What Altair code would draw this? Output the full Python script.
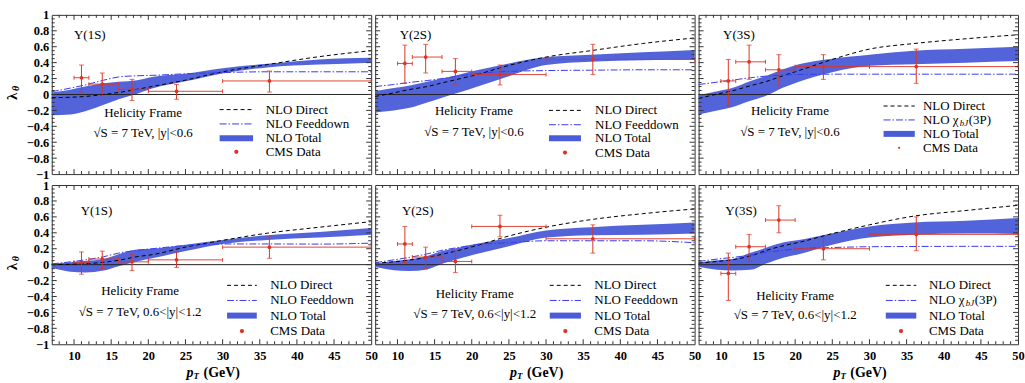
import altair as alt
import pandas as pd

# ---------------- data ----------------
PT = [7, 9.5, 11.5, 14, 16, 18.5, 20.5, 25, 30, 36, 43, 50]

# Upsilon(1S), |y|<0.6
DIRECT_1S_C = [-0.04, -0.035, -0.025, 0.0, 0.025, 0.065, 0.10, 0.18, 0.285, 0.375, 0.475, 0.55]
FEED_1S_C = [0.035, 0.08, 0.12, 0.18, 0.22, 0.235, 0.24, 0.26, 0.275, 0.285, 0.285, 0.285]
TOT_HI_1S_C = [0.025, 0.06, 0.10, 0.14, 0.16, 0.18, 0.22, 0.26, 0.33, 0.385, 0.44, 0.46]
TOT_LO_1S_C = [-0.26, -0.25, -0.21, -0.13, -0.06, 0.01, 0.075, 0.165, 0.265, 0.34, 0.375, 0.40]
# Upsilon(2S), |y|<0.6
DIRECT_2S_C = [-0.025, 0.02, 0.06, 0.10, 0.145, 0.20, 0.245, 0.365, 0.47, 0.55, 0.64, 0.71]
FEED_2S_C = [0.10, 0.125, 0.15, 0.175, 0.20, 0.235, 0.26, 0.29, 0.30, 0.305, 0.31, 0.31]
TOT_HI_2S_C = [0.04, 0.08, 0.11, 0.16, 0.20, 0.255, 0.30, 0.39, 0.47, 0.50, 0.53, 0.56]
TOT_LO_2S_C = [-0.225, -0.20, -0.17, -0.10, -0.04, 0.03, 0.09, 0.23, 0.37, 0.41, 0.43, 0.44]
# Upsilon(3S), |y|<0.6
DIRECT_3S_C = [-0.05, 0.005, 0.045, 0.11, 0.16, 0.24, 0.30, 0.44, 0.57, 0.64, 0.70, 0.75]
FEED_3S_C = [0.125, 0.155, 0.18, 0.21, 0.23, 0.245, 0.25, 0.255, 0.255, 0.255, 0.255, 0.255]
TOT_HI_3S_C = [-0.01, 0.04, 0.08, 0.17, 0.23, 0.32, 0.38, 0.45, 0.50, 0.55, 0.575, 0.60]
TOT_LO_3S_C = [-0.25, -0.20, -0.16, -0.08, -0.02, 0.09, 0.16, 0.28, 0.36, 0.38, 0.40, 0.42]
# Upsilon(1S), 0.6<|y|<1.2
DIRECT_1S_F = [0.0, 0.005, 0.012, 0.03, 0.055, 0.10, 0.125, 0.22, 0.305, 0.395, 0.47, 0.54]
FEED_1S_F = [0.01, 0.035, 0.06, 0.10, 0.145, 0.18, 0.20, 0.24, 0.26, 0.26, 0.258, 0.27]
TOT_HI_1S_F = [0.01, 0.03, 0.045, 0.07, 0.13, 0.19, 0.20, 0.25, 0.31, 0.37, 0.41, 0.46]
TOT_LO_1S_F = [-0.04, -0.09, -0.10, -0.075, -0.02, 0.04, 0.08, 0.17, 0.26, 0.31, 0.34, 0.375]
# Upsilon(2S), 0.6<|y|<1.2
DIRECT_2S_F = [0.02, 0.035, 0.057, 0.09, 0.13, 0.185, 0.235, 0.36, 0.47, 0.565, 0.64, 0.70]
FEED_2S_F = [0.025, 0.06, 0.09, 0.135, 0.18, 0.22, 0.25, 0.275, 0.30, 0.30, 0.30, 0.275]
TOT_HI_2S_F = [0.01, 0.045, 0.065, 0.11, 0.17, 0.22, 0.26, 0.335, 0.43, 0.47, 0.50, 0.53]
TOT_LO_2S_F = [-0.03, -0.07, -0.08, -0.06, 0.01, 0.08, 0.13, 0.23, 0.34, 0.37, 0.375, 0.39]
# Upsilon(3S), 0.6<|y|<1.2
DIRECT_3S_F = [0.02, 0.04, 0.06, 0.11, 0.175, 0.24, 0.28, 0.39, 0.50, 0.61, 0.68, 0.745]
FEED_3S_F = [0.04, 0.07, 0.09, 0.12, 0.155, 0.18, 0.20, 0.215, 0.225, 0.228, 0.23, 0.23]
TOT_HI_3S_F = [0.025, 0.055, 0.07, 0.15, 0.21, 0.28, 0.31, 0.395, 0.48, 0.53, 0.55, 0.585]
TOT_LO_3S_F = [-0.025, -0.065, -0.075, -0.065, 0.01, 0.09, 0.13, 0.25, 0.34, 0.375, 0.39, 0.385]

# CMS data: pT bins and lambda_theta with error bars
BIN_LO = [10, 12, 16, 20, 30]
BIN_HI = [12, 16, 20, 30, 50]
BIN_PT = [11.0, 13.8, 17.8, 23.8, 36.3]

CMS_1S_C = [0.21, 0.13, 0.065, 0.04, 0.17]
CMS_1S_C_LO = [0.03, -0.015, -0.075, -0.06, 0.03]
CMS_1S_C_HI = [0.37, 0.27, 0.19, 0.125, 0.295]
CMS_2S_C = [0.39, 0.47, 0.29, 0.25, 0.44]
CMS_2S_C_LO = [0.14, 0.27, 0.13, 0.12, 0.25]
CMS_2S_C_HI = [0.62, 0.63, 0.45, 0.37, 0.63]
CMS_3S_C = [0.17, 0.41, 0.31, 0.35, 0.35]
CMS_3S_C_LO = [-0.14, 0.19, 0.11, 0.19, 0.14]
CMS_3S_C_HI = [0.44, 0.62, 0.50, 0.50, 0.57]
CMS_1S_F = [0.03, 0.07, 0.035, 0.06, 0.22]
CMS_1S_F_LO = [-0.12, -0.05, -0.075, -0.035, 0.08]
CMS_1S_F_HI = [0.16, 0.17, 0.125, 0.16, 0.35]
CMS_2S_F = [0.26, 0.095, 0.04, 0.48, 0.325]
CMS_2S_F_LO = [0.025, -0.05, -0.10, 0.35, 0.145]
CMS_2S_F_HI = [0.48, 0.22, 0.17, 0.62, 0.50]
CMS_3S_F = [-0.11, 0.225, 0.56, 0.20, 0.38]
CMS_3S_F_LO = [-0.45, 0.04, 0.40, 0.06, 0.175]
CMS_3S_F_HI = [0.145, 0.38, 0.74, 0.34, 0.60]

X_LABELS = [10, 15, 20, 25, 30, 35, 40, 45, 50]
Y_LABELS = [-1, -0.8, -0.6, -0.4, -0.2, 0, 0.2, 0.4, 0.6, 0.8, 1]

# ---------------- style ----------------
W, H = 321, 160
SERIF = "Liberation Serif"
RED = "#dd3322"
BAND = "#4a5cd8"
FEEDC = "#3a3af0"
FRAME = "#333333"

XS = alt.Scale(domain=[7, 50], nice=False, zero=False)
YS = alt.Scale(domain=[-1, 1], nice=False, zero=False)

X_MAJOR = [v for v in range(10, 50, 5)]
X_MINOR = [v for v in range(8, 50) if v % 5 != 0]
Y_MAJOR = [round(-0.8 + 0.2 * i, 2) for i in range(9)]
Y_MINOR = [round(-0.95 + 0.05 * i, 2) for i in range(39) if round((-0.95 + 0.05 * i) * 100) % 20 != 0]

ONE = pd.DataFrame({"k": [0]})


def panel(cfg, row, col):
    direct, feed, lo, hi, lam, elo, ehi = cfg["series"]
    curves = pd.DataFrame({"pT": PT, "direct": direct, "feed": feed, "lo": lo, "hi": hi})
    cms = pd.DataFrame({"pT": BIN_PT, "blo": BIN_LO, "bhi": BIN_HI, "lam": lam, "elo": elo, "ehi": ehi})

    xaxis = None
    yaxis = None
    if row == 1:
        xaxis = alt.Axis(values=X_LABELS, format="d", labelFont=SERIF, labelFontWeight="bold",
                         labelFontSize=12.5, labelColor="black", domain=False, ticks=False, grid=False,
                         labelPadding=5, labelFlush=False, labelOverlap=False, title=None)
    if col == 0:
        yaxis = alt.Axis(values=Y_LABELS, format="~g", labelFont=SERIF, labelFontWeight="bold",
                         labelFontSize=12.5, labelColor="black", domain=False, ticks=False, grid=False,
                         labelPadding=3, labelFlush=False, labelOverlap=False, title=None)

    def X(field):
        return alt.X(field, type="quantitative", scale=XS, axis=xaxis, title=None)

    def Y(field):
        return alt.Y(field, type="quantitative", scale=YS, axis=yaxis, title=None)

    def xd(v):
        return alt.XDatum(v, scale=XS, axis=xaxis)

    def yd(v):
        return alt.YDatum(v, scale=YS, axis=yaxis)

    def txt(x, y, s, size=12.5, align="center", **kw):
        return alt.Chart(ONE).mark_text(text=s, font=SERIF, fontSize=size, align=align,
                                        baseline="middle", color="black", **kw).encode(x=xd(x), y=yd(y))

    layers = []
    base = alt.Chart(curves)
    layers.append(base.mark_area(color=BAND, opacity=0.95, interpolate="monotone").encode(
        x=X("pT"), y=Y("lo"), y2="hi"))
    layers.append(alt.Chart(ONE).mark_rule(color="#222", strokeWidth=1).encode(y=yd(0)))
    layers.append(base.mark_line(color="black", strokeWidth=1, strokeDash=[4, 3],
                                 interpolate="monotone").encode(x=X("pT"), y=Y("direct")))
    layers.append(base.mark_line(color=FEEDC, strokeWidth=1, strokeDash=[7, 2, 1.5, 2],
                                 interpolate="monotone").encode(x=X("pT"), y=Y("feed")))

    cb = alt.Chart(cms)
    layers.append(cb.mark_rule(color=RED, strokeWidth=1, opacity=0.9).encode(
        x=X("blo"), x2="bhi", y=Y("lam")))
    layers.append(cb.mark_rule(color=RED, strokeWidth=1).encode(x=X("pT"), y=Y("elo"), y2="ehi"))
    for f in ("elo", "ehi"):
        layers.append(cb.mark_tick(color=RED, orient="horizontal", size=5, thickness=1).encode(
            x=X("pT"), y=Y(f)))
    for f in ("blo", "bhi"):
        layers.append(cb.mark_tick(color=RED, orient="vertical", size=4, thickness=1, opacity=0.9).encode(
            x=X(f), y=Y("lam")))
    layers.append(cb.mark_circle(color=RED, size=14, opacity=1).encode(x=X("pT"), y=Y("lam")))

    # annotations
    layers.append(txt(cfg["state_x"], cfg["state_y"], cfg["state"], size=13, align="left"))
    layers.append(txt(cfg["frame_x"], cfg["frame_y"], "Helicity Frame", size=13))
    layers.append(txt(cfg["frame_x"], cfg["rap_y"], cfg["rap"], size=13))

    # legend
    lx0, lx1, ltx = cfg["leg_x"]
    ry = cfg["leg_y"]
    layers.append(alt.Chart(ONE).mark_rule(color="black", strokeWidth=1, strokeDash=[4, 3]).encode(
        x=xd(lx0), x2=alt.X2Datum(lx1), y=yd(ry[0])))
    layers.append(alt.Chart(ONE).mark_rule(color=FEEDC, strokeWidth=1, strokeDash=[7, 2, 1.5, 2]).encode(
        x=xd(lx0), x2=alt.X2Datum(lx1), y=yd(ry[1])))
    layers.append(alt.Chart(ONE).mark_rule(color=BAND, strokeWidth=6).encode(
        x=xd(lx0), x2=alt.X2Datum(lx1), y=yd(ry[2])))
    layers.append(alt.Chart(ONE).mark_circle(color=RED, size=cfg["dot"], opacity=1).encode(
        x=xd((lx0 + lx1) / 2), y=yd(ry[3])))
    layers.append(txt(ltx, ry[0], "NLO Direct", size=13, align="left"))
    if cfg["chi"]:
        layers.append(txt(ltx, ry[1], "NLO χ", size=13, align="left"))
        layers.append(txt(ltx, ry[1], "bJ", size=9, align="left", dx=37, dy=3, fontStyle="italic"))
        layers.append(txt(ltx, ry[1], "(3P)", size=13, align="left", dx=46))
    else:
        layers.append(txt(ltx, ry[1], "NLO Feeddown", size=13, align="left"))
    layers.append(txt(ltx, ry[2], "NLO Total", size=13, align="left"))
    layers.append(txt(ltx, ry[3], "CMS Data", size=13, align="left"))

    # inward frame ticks
    for vals, ln in ((X_MAJOR, 5), (X_MINOR, 3)):
        d = alt.Chart(pd.DataFrame({"v": vals}))
        layers.append(d.mark_rule(color=FRAME, strokeWidth=1).encode(
            x=X("v"), y=alt.value(0), y2=alt.value(ln)))
        layers.append(d.mark_rule(color=FRAME, strokeWidth=1).encode(
            x=X("v"), y=alt.value(H), y2=alt.value(H - ln)))
    for vals, ln in ((Y_MAJOR, 5), (Y_MINOR, 3)):
        d = alt.Chart(pd.DataFrame({"v": vals}))
        layers.append(d.mark_rule(color=FRAME, strokeWidth=1).encode(
            y=Y("v"), x=alt.value(0), x2=alt.value(ln)))
        layers.append(d.mark_rule(color=FRAME, strokeWidth=1).encode(
            y=Y("v"), x=alt.value(W), x2=alt.value(W - ln)))

    # axis titles drawn as text
    if col == 0:
        layers.append(alt.Chart(ONE).mark_text(text="λ", font=SERIF, fontSize=15, fontWeight="bold",
                                               angle=270, align="center", baseline="middle").encode(
            x=alt.value(-40), y=alt.value(H / 2 + 2)))
        layers.append(alt.Chart(ONE).mark_text(text="θ", font=SERIF, fontSize=10, fontWeight="bold",
                                               fontStyle="italic", angle=270, align="center",
                                               baseline="middle").encode(
            x=alt.value(-36), y=alt.value(H / 2 - 6)))
    if row == 1:
        cx = W / 2
        layers.append(alt.Chart(ONE).mark_text(text="p", font=SERIF, fontSize=14, fontWeight="bold",
                                               fontStyle="italic", align="left", baseline="middle").encode(
            x=alt.value(cx - 25), y=alt.value(H + 29)))
        layers.append(alt.Chart(ONE).mark_text(text="T", font=SERIF, fontSize=9, fontWeight="bold",
                                               fontStyle="italic", align="left", baseline="middle").encode(
            x=alt.value(cx - 18), y=alt.value(H + 32)))
        layers.append(alt.Chart(ONE).mark_text(text="(GeV)", font=SERIF, fontSize=14, fontWeight="bold",
                                               align="left", baseline="middle").encode(
            x=alt.value(cx - 8), y=alt.value(H + 29)))

    return alt.layer(*layers).properties(width=W, height=H)


TOP_RAP = "√S  = 7 TeV, |y|<0.6"
BOT_RAP = "√S  = 7 TeV, 0.6<|y|<1.2"

CFGS = [
    dict(series=(DIRECT_1S_C, FEED_1S_C, TOT_LO_1S_C, TOT_HI_1S_C, CMS_1S_C, CMS_1S_C_LO, CMS_1S_C_HI),
         state="Υ(1S)", state_x=10.0, state_y=0.75, frame_x=19.3, frame_y=-0.23, rap=TOP_RAP, rap_y=-0.49,
         leg_x=(29.6, 34.1, 35.8), leg_y=(-0.19, -0.37, -0.55, -0.72), chi=False, dot=18),
    dict(series=(DIRECT_2S_C, FEED_2S_C, TOT_LO_2S_C, TOT_HI_2S_C, CMS_2S_C, CMS_2S_C_LO, CMS_2S_C_HI),
         state="Υ(2S)", state_x=10.3, state_y=0.75, frame_x=20.3, frame_y=-0.21, rap=TOP_RAP, rap_y=-0.47,
         leg_x=(30.4, 34.7, 36.6), leg_y=(-0.20, -0.38, -0.55, -0.73), chi=False, dot=18),
    dict(series=(DIRECT_3S_C, FEED_3S_C, TOT_LO_3S_C, TOT_HI_3S_C, CMS_3S_C, CMS_3S_C_LO, CMS_3S_C_HI),
         state="Υ(3S)", state_x=10.3, state_y=0.75, frame_x=19.3, frame_y=-0.21, rap=TOP_RAP, rap_y=-0.47,
         leg_x=(31.9, 36.1, 37.2), leg_y=(-0.145, -0.32, -0.495, -0.67), chi=True, dot=5),
    dict(series=(DIRECT_1S_F, FEED_1S_F, TOT_LO_1S_F, TOT_HI_1S_F, CMS_1S_F, CMS_1S_F_LO, CMS_1S_F_HI),
         state="Υ(1S)", state_x=10.9, state_y=0.67, frame_x=18.9, frame_y=-0.33, rap=BOT_RAP, rap_y=-0.59,
         leg_x=(30.6, 34.6, 36.4), leg_y=(-0.26, -0.45, -0.64, -0.835), chi=False, dot=18),
    dict(series=(DIRECT_2S_F, FEED_2S_F, TOT_LO_2S_F, TOT_HI_2S_F, CMS_2S_F, CMS_2S_F_LO, CMS_2S_F_HI),
         state="Υ(2S)", state_x=10.6, state_y=0.67, frame_x=20.4, frame_y=-0.37, rap=BOT_RAP, rap_y=-0.62,
         leg_x=(30.5, 34.7, 36.5), leg_y=(-0.26, -0.45, -0.64, -0.835), chi=False, dot=18),
    dict(series=(DIRECT_3S_F, FEED_3S_F, TOT_LO_3S_F, TOT_HI_3S_F, CMS_3S_F, CMS_3S_F_LO, CMS_3S_F_HI),
         state="Υ(3S)", state_x=10.6, state_y=0.67, frame_x=20.0, frame_y=-0.39, rap=BOT_RAP, rap_y=-0.635,
         leg_x=(32.2, 36.3, 38.0), leg_y=(-0.26, -0.45, -0.64, -0.835), chi=True, dot=18),
]

panels = [panel(c, i // 3, i % 3) for i, c in enumerate(CFGS)]

chart = alt.concat(*panels, columns=3, spacing=alt.RowColnumber(row=11, column=4), bounds="flush").properties(
    padding={"left": 4, "top": 7, "right": 0, "bottom": 0}, background="white"
).configure_view(stroke=FRAME, strokeWidth=1)

chart.save("out.html", embed_options={"renderer": "svg", "actions": False})
